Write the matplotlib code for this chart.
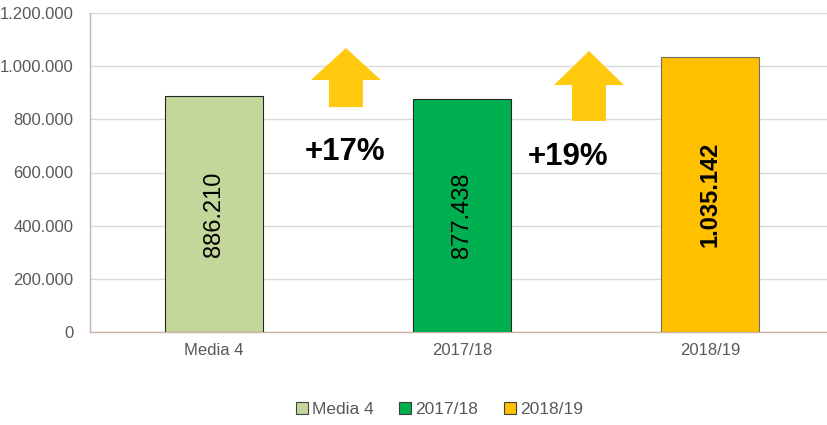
import matplotlib
matplotlib.use("Agg")
import matplotlib.pyplot as plt
from matplotlib.patches import Polygon
from matplotlib.ticker import FuncFormatter
from matplotlib.lines import Line2D

plt.rcParams['font.family'] = ['Liberation Sans', 'DejaVu Sans']

categories = ["Media 4", "2017/18", "2018/19"]
values = [886210, 877438, 1035142]
value_labels = ["886.210", "877.438", "1.035.142"]
colors = ["#C4D79B", "#00B050", "#FFC000"]
edge_colors = ["#262626", "#262626", "#6f6f6f"]
growth_labels = ["+17%", "+19%"]
yticks = [0, 200000, 400000, 600000, 800000, 1000000, 1200000]

fig = plt.figure(figsize=(8.27, 4.25), dpi=100)
ax = fig.add_axes([90/827, 1-332/425, 744/827, 319/425])

x = list(range(len(categories)))
bars = ax.bar(x, values, width=0.395, color=colors, edgecolor=edge_colors, linewidth=0.8, zorder=3)

for i, (v, lab) in enumerate(zip(values, value_labels)):
    ax.text(i, v/2, lab, rotation=90, ha="center", va="center", fontsize=17,
            fontweight="bold" if i == 2 else "normal", color="black", zorder=4)

ax.set_xlim(-0.5, 2.5)
ax.set_ylim(0, 1200000)
ax.set_yticks(yticks)
ax.yaxis.set_major_formatter(FuncFormatter(lambda v, p: f"{int(v):,}".replace(",", ".")))
ax.set_xticks(x)
ax.set_xticklabels(categories)
ax.tick_params(axis="both", length=0, labelsize=12, colors="#595959")
ax.tick_params(axis="x", pad=8)
ax.tick_params(axis="y", pad=12)
ax.grid(axis="y", color="#D9D9D9", linewidth=1, zorder=0)
for s in ["top", "right"]:
    ax.spines[s].set_visible(False)
for s in ["left", "bottom"]:
    ax.spines[s].set_color("#C9B4A8")
    ax.spines[s].set_linewidth(1)

# arrows (center x, tip y, head base y, shaft bottom y)
arrows = [(0.532, 1068000, 948000, 846000), (1.512, 1057000, 929000, 794000)]
hw, sw = 0.141, 0.0685
for cx, tip, base, bot in arrows:
    pts = [(cx, tip), (cx+hw, base), (cx+sw, base), (cx+sw, bot),
           (cx-sw, bot), (cx-sw, base), (cx-hw, base)]
    ax.add_patch(Polygon(pts, closed=True, facecolor="#FFC90E", edgecolor="none", zorder=3))

growth_pos = [(0.528, 677000), (1.427, 658000)]
for (gx, gy), g in zip(growth_pos, growth_labels):
    ax.text(gx, gy, g, ha="center", va="center", fontsize=22.5, fontweight="bold", color="black", zorder=4)

handles = [Line2D([0], [0], marker="s", linestyle="none", markersize=8,
                  markerfacecolor=c, markeredgecolor="#404040", markeredgewidth=0.8) for c in colors]
fig.legend(handles, categories, loc="center", bbox_to_anchor=(438/827, 1-409/425), ncol=3,
           frameon=False, fontsize=12.5, labelcolor="#595959", handletextpad=0.1,
           columnspacing=1.3, handlelength=1.0)

fig.savefig("out.png", dpi=100)
